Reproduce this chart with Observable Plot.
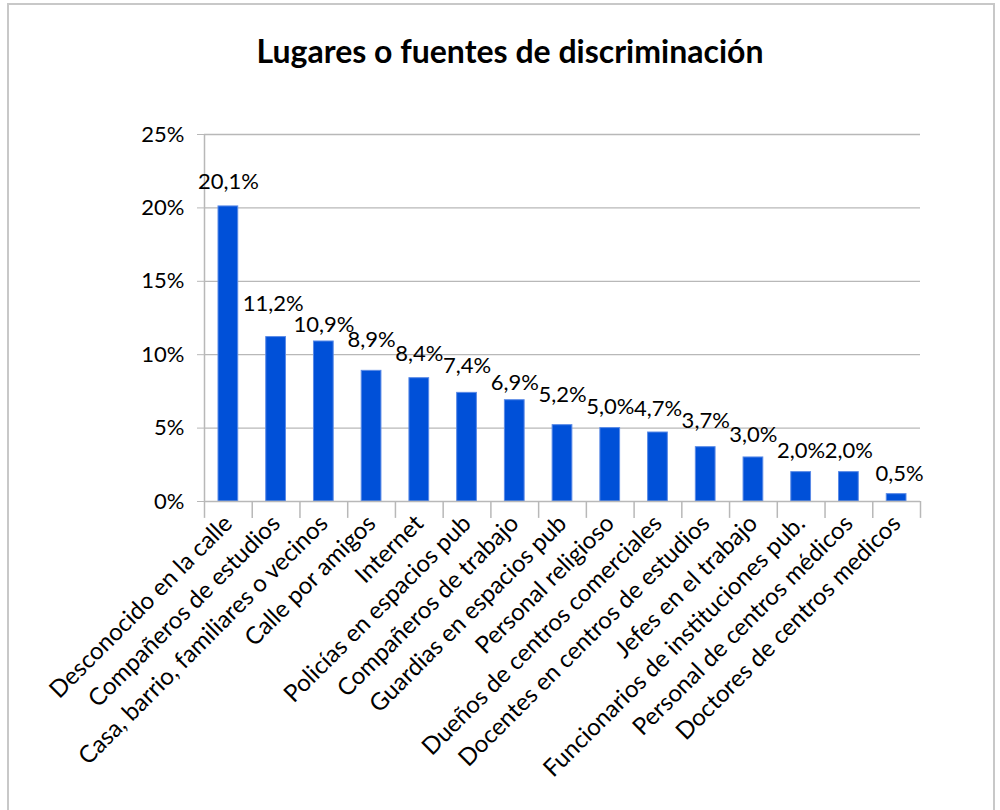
<!DOCTYPE html>
<html>
<head>
<meta charset="utf-8">
<script src="https://cdn.jsdelivr.net/npm/d3@7"></script>
<script src="https://cdn.jsdelivr.net/npm/@observablehq/plot@0.6"></script>
<style>
  html, body { margin: 0; padding: 0; background: #fff; }
  body { width: 1000px; height: 810px; position: relative; overflow: hidden; font-family: Lato, "Open Sans", sans-serif; }
  #frame { position: absolute; left: 7px; top: 3px; width: 988px; height: 812px; border: 2px solid #c8c8c8; box-sizing: border-box; }
  #title { position: absolute; left: 20px; width: 980px; top: 31px; text-align: center; font-size: 32px; font-weight: bold; color: #000; }
  #chart { position: absolute; left: 0; top: 100px; }
</style>
</head>
<body>
<div id="frame"></div>
<div id="title">Lugares o fuentes de discriminación</div>
<div id="chart"></div>
<script>
const categories = [
  "Desconocido en la calle",
  "Compañeros de estudios",
  "Casa, barrio, familiares o vecinos",
  "Calle por amigos",
  "Internet",
  "Policías en espacios pub",
  "Compañeros de trabajo",
  "Guardias en espacios pub",
  "Personal religioso",
  "Dueños de centros comerciales",
  "Docentes en centros de estudios",
  "Jefes en el trabajo",
  "Funcionarios de instituciones pub.",
  "Personal de centros médicos",
  "Doctores de centros medicos"
];
const values = [20.1, 11.2, 10.9, 8.9, 8.4, 7.4, 6.9, 5.2, 5.0, 4.7, 3.7, 3.0, 2.0, 2.0, 0.5];
const yTicks = [0, 5, 10, 15, 20, 25];

const data = categories.map((c, i) => ({ category: c, value: values[i] }));

const W = 1000, H = 710;
const mL = 204, mR = 80, mT = 34, mB = 309;
const step = (W - mL - mR) / categories.length;
const gridColor = "#b8b8b8";
const fmt = v => v.toFixed(1).replace(".", ",") + "%";

const chart = Plot.plot({
  width: W,
  height: H,
  marginLeft: mL,
  marginRight: mR,
  marginTop: mT,
  marginBottom: mB,
  style: { fontFamily: "Lato, 'Open Sans', sans-serif", color: "#000", background: "transparent" },
  x: { type: "band", domain: categories, padding: 0, round: false, label: null },
  y: { domain: [0, 25], label: null },
  marks: [
    Plot.ruleY(yTicks.filter(t => t > 0), { stroke: gridColor, strokeWidth: 1.3 }),
    Plot.barY(data, {
      x: "category", y: "value",
      fill: "#0050d8", stroke: "#5a8ae6", strokeWidth: 1,
      insetLeft: 14, insetRight: 14
    }),
    Plot.ruleY([0], { stroke: gridColor, strokeWidth: 1.5 }),
    Plot.ruleX(categories, { x: d => d, y1: -1.15, y2: 0, dx: -step / 2, stroke: gridColor, strokeWidth: 1.5 }),
    Plot.ruleX(categories.slice(-1), { x: d => d, y1: -1.15, y2: 0, dx: step / 2, stroke: gridColor, strokeWidth: 1.5 }),
    Plot.ruleX(categories.slice(0, 1), { x: d => d, y1: 0, y2: 25, dx: -step / 2, stroke: gridColor, strokeWidth: 1.5 }),
    Plot.axisY({
      ticks: yTicks, tickSize: 7, tickPadding: 13, stroke: gridColor,
      tickFormat: d => d + "%", fontSize: 22, label: null
    }),
    Plot.axisX({
      tickSize: 0, tickPadding: 18, tickRotate: -45, fontSize: 24, label: null
    }),
    Plot.text(data, {
      x: "category", y: "value", text: d => fmt(d.value),
      dy: -24, fontSize: 22, fill: "#000", className: "datalabel"
    })
  ]
});
document.getElementById("chart").appendChild(chart);

// simple label collision avoidance (like the spreadsheet's auto placement)
const labels = Array.from(chart.querySelectorAll("g.datalabel text"));
const boxes = labels.map(t => t.getBoundingClientRect());
const shifts = labels.map(() => ({ x: 0, y: 0 }));
for (let i = 1; i < labels.length; i++) {
  const a = boxes[i - 1], b = boxes[i];
  const ax1 = a.left + shifts[i - 1].x, ax2 = a.right + shifts[i - 1].x;
  const ay1 = a.top + shifts[i - 1].y + 3, ay2 = a.bottom + shifts[i - 1].y - 3;
  const bx1 = b.left, bx2 = b.right, by1 = b.top + 3, by2 = b.bottom - 3;
  const ox = Math.min(ax2, bx2) - Math.max(ax1, bx1);
  const oy = Math.min(ay2, by2) - Math.max(ay1, by1);
  if (ox > 0 && oy > 0) {
    const half = oy / 2 + 1;
    shifts[i - 1].y -= half; shifts[i].y += half;
    shifts[i - 1].x -= 3; shifts[i].x += 3;
  }
}
labels.forEach((t, i) => {
  if (shifts[i].x || shifts[i].y) {
    const tr = t.getAttribute("transform") || "";
    t.setAttribute("transform", `translate(${shifts[i].x},${shifts[i].y}) ${tr}`);
  }
});
</script>
</body>
</html>
